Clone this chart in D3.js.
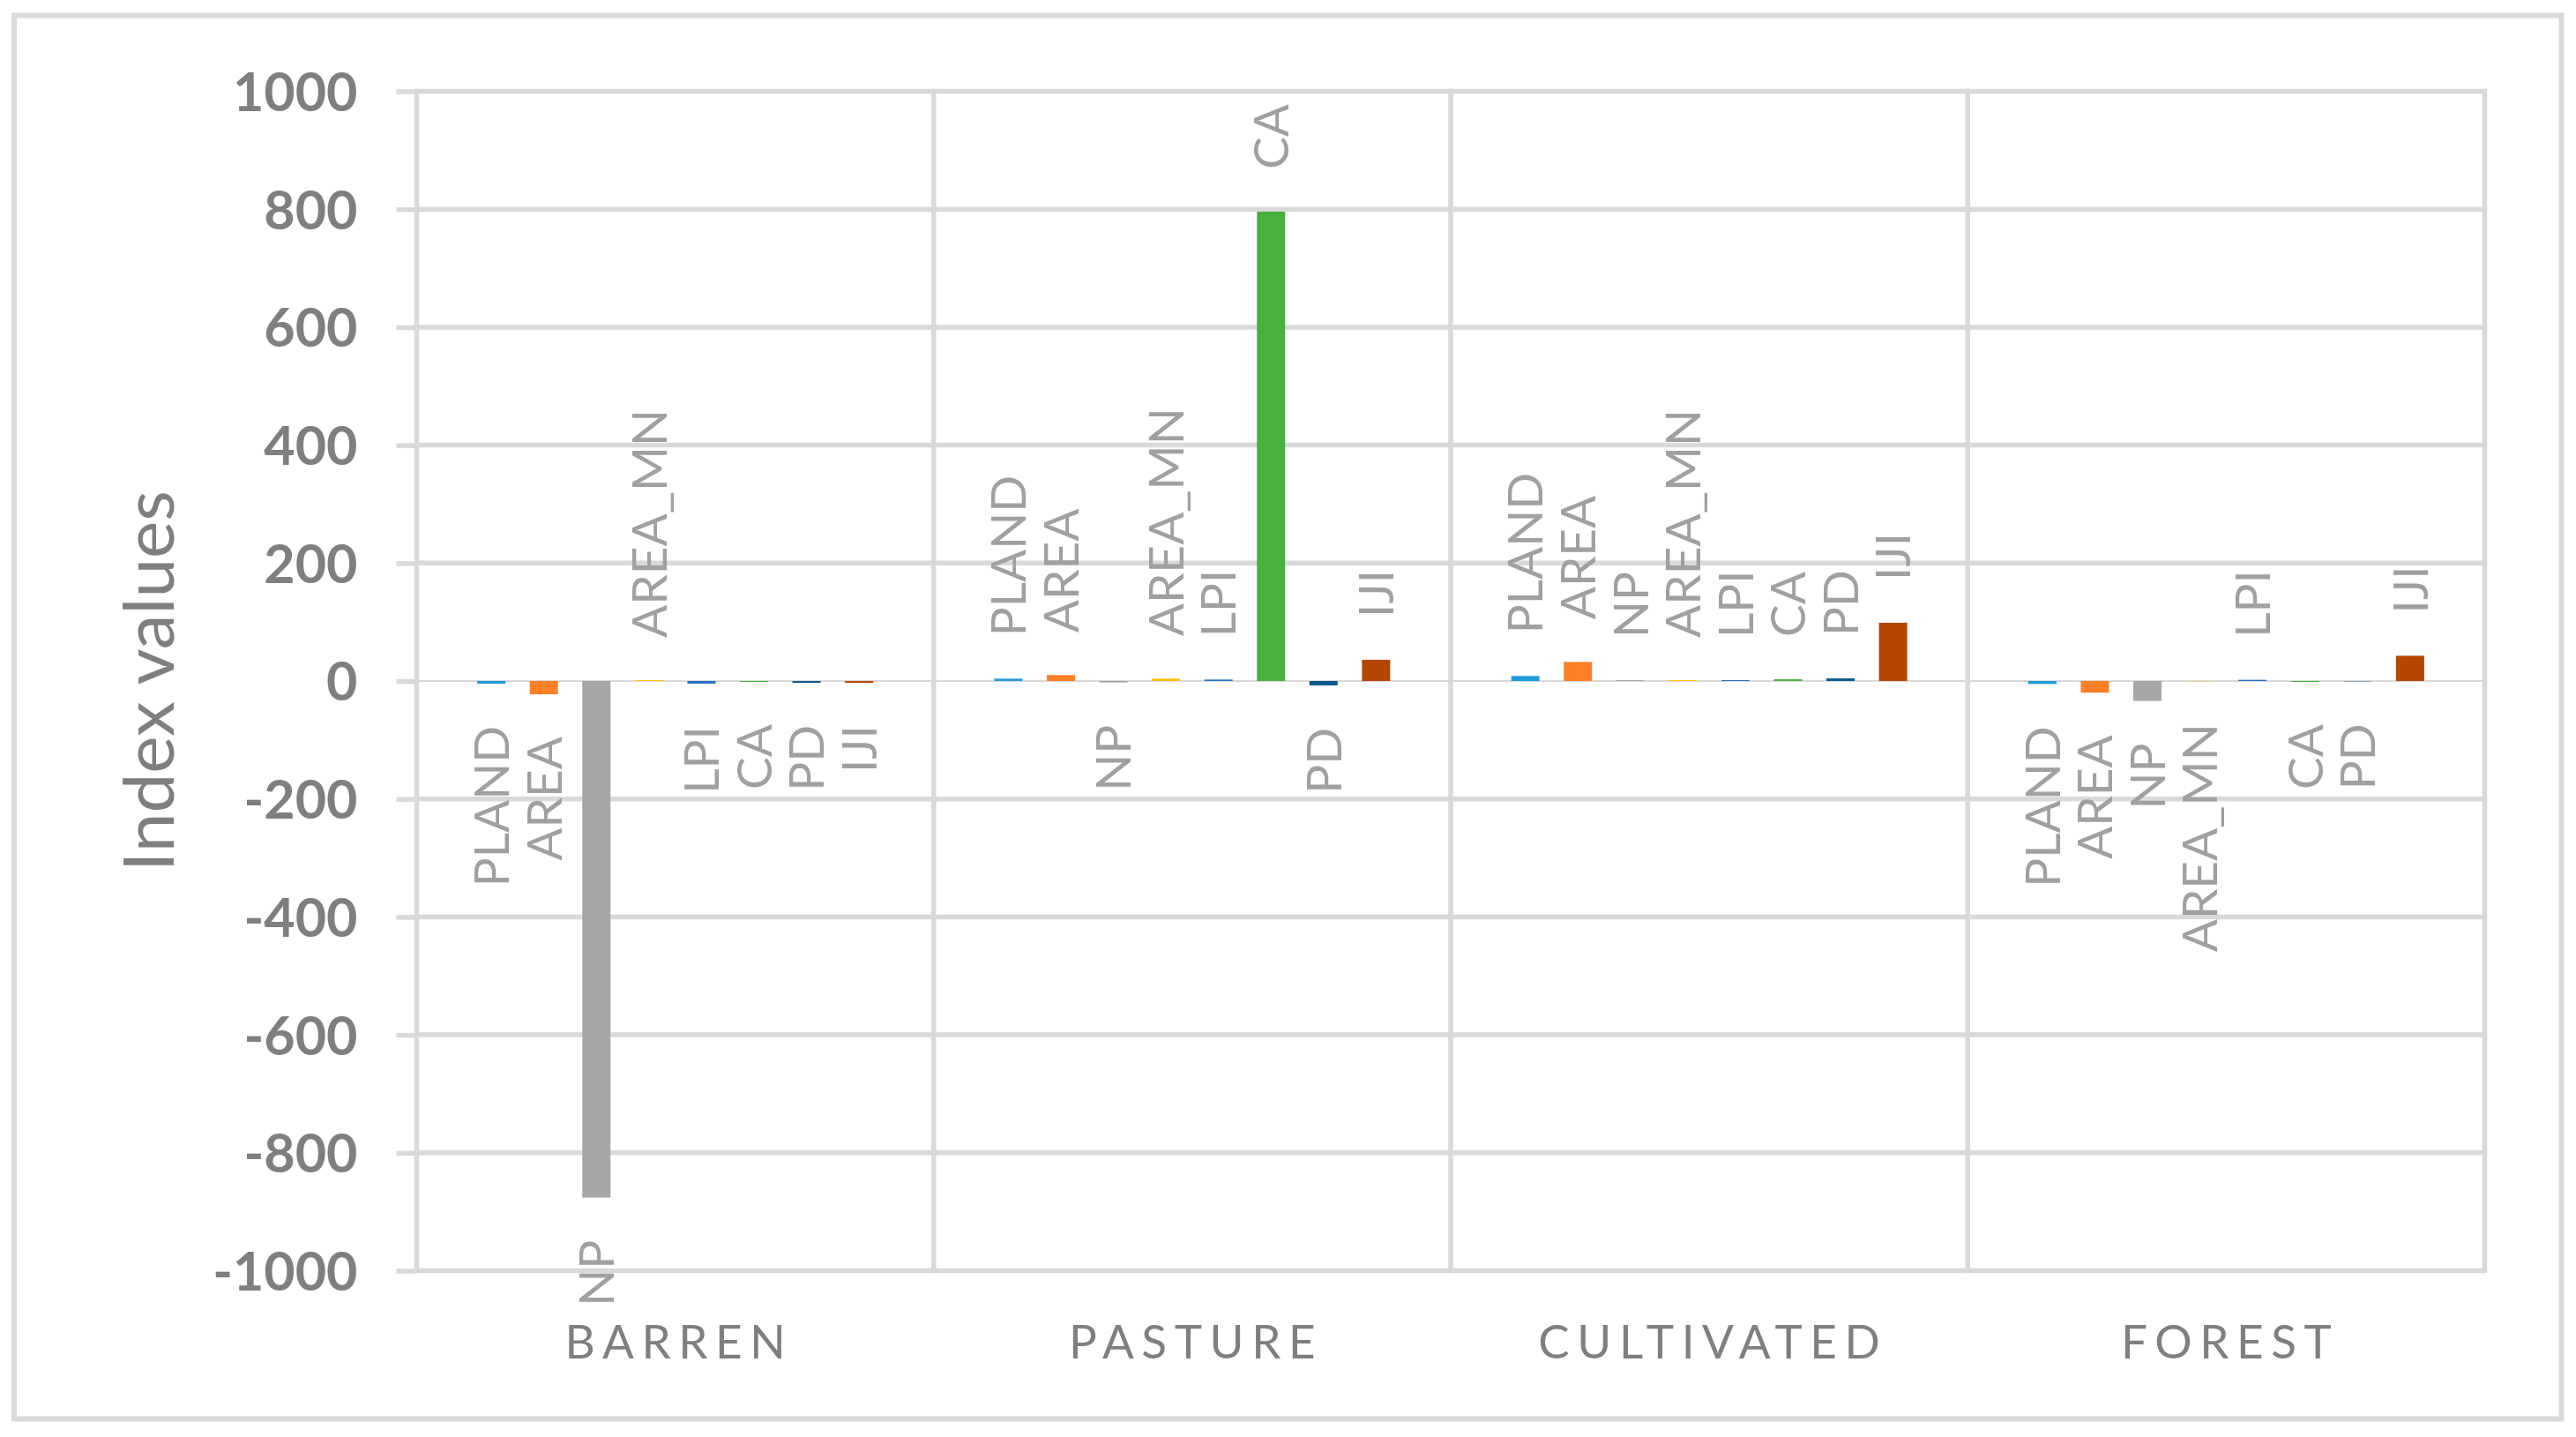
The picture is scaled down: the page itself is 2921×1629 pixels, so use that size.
<!DOCTYPE html>
<html>
<head>
<meta charset="utf-8">
<script src="https://cdn.jsdelivr.net/npm/d3@7"></script>
<style>
  html, body { margin: 0; padding: 0; background: #ffffff; }
  svg { display: block; }
</style>
</head>
<body>
<script>
// ---- data ----
const categories = ["BARREN", "PASTURE", "CULTIVATED", "FOREST"];
const seriesNames = ["PLAND", "AREA", "NP", "AREA_MN", "LPI", "CA", "PD", "IJI"];
const seriesColors = ["#1f9bdc", "#ff7f27", "#a6a6a6", "#ffc000", "#2672c4", "#47b13b", "#0b5a8e", "#b54600"];
const PLAND   = [-4.5,   4,   8.5, -5];
const AREA    = [-22.5, 10,  32.4, -19.8];
const NP      = [-876,  -2.5, 1.5, -33.7];
const AREA_MN = [1.5,    4,   1.5, -0.5];
const LPI     = [-4.5,   2.5, 1.5,  2];
const CA      = [-1.5, 796,   3,   -1.5];
const PD      = [-3,   -7.5,  4.5, -0.5];
const IJI     = [-3,    36,  98.8, 42.8];
const seriesValues = [PLAND, AREA, NP, AREA_MN, LPI, CA, PD, IJI];
const yTicks = [-1000, -800, -600, -400, -200, 0, 200, 400, 600, 800, 1000];
const yTitle = "Index values";

// ---- layout ----
const W = 2921, H = 1629;
const plot = { left: 472.5, right: 2817.5, top: 103.5, bottom: 1440.5 };
const gridColor = "#d9d9d9";

const svg = d3.select("body").append("svg").attr("width", W).attr("height", H);
svg.append("rect").attr("width", W).attr("height", H).attr("fill", "#fff");

// outer frame
svg.append("rect").attr("x", 16).attr("y", 17.5).attr("width", 2904.5 - 16).attr("height", 1608.5 - 17.5)
  .attr("fill", "none").attr("stroke", gridColor).attr("stroke-width", 6);

const y = d3.scaleLinear().domain([-1000, 1000]).range([plot.bottom, plot.top]);
const x0 = d3.scaleBand().domain(categories).range([plot.left, plot.right]).paddingInner(0).paddingOuter(0);
const step = 59.57;
const half = x0.bandwidth() / 2;
const x1 = d3.scaleBand().domain(seriesNames).range([half - 4 * step, half + 4 * step]).padding(0);
const barW = 32;

// horizontal gridlines (not zero)
svg.append("g").selectAll("line").data(yTicks.filter(d => d !== 0)).join("line")
  .attr("x1", plot.left).attr("x2", plot.right)
  .attr("y1", d => y(d)).attr("y2", d => y(d))
  .attr("stroke", gridColor).attr("stroke-width", 5.5);

// vertical category separators
const seps = categories.map(c => x0(c)).concat([plot.right]);
svg.append("g").selectAll("line").data(seps).join("line")
  .attr("x1", d => d).attr("x2", d => d)
  .attr("y1", plot.top - 2.75).attr("y2", plot.bottom + 2.75)
  .attr("stroke", gridColor).attr("stroke-width", 5.5);

// zero line (thin)
svg.append("line").attr("x1", plot.left).attr("x2", plot.right)
  .attr("y1", y(0)).attr("y2", y(0)).attr("stroke", gridColor).attr("stroke-width", 1.8);

// y axis (ticks + labels)
const yAxis = d3.axisLeft(y).tickValues(yTicks).tickSizeInner(23).tickSizeOuter(0).tickPadding(44)
  .tickFormat(d => String(d));
const gy = svg.append("g").attr("transform", `translate(${plot.left},0)`).call(yAxis);
gy.select(".domain").remove();
gy.selectAll(".tick line").attr("stroke", gridColor).attr("stroke-width", 5.5);
gy.selectAll(".tick text").attr("fill", "#7f7f7f").attr("font-family", "Lato, sans-serif")
  .attr("font-weight", "bold").attr("font-size", 61).attr("dy", "0.36em");

// y title
svg.append("text").attr("transform", `translate(197,${y(0)}) rotate(-90)`)
  .attr("text-anchor", "middle").attr("fill", "#7f7f7f")
  .attr("font-family", "Lato, sans-serif").attr("font-size", 80).text(yTitle);

// bars
const groups = svg.append("g").selectAll("g").data(categories).join("g")
  .attr("transform", d => `translate(${x0(d)},0)`);

const cells = (ci) => seriesNames.map((s, si) => ({ s, si, v: seriesValues[si][ci] }));

groups.each(function (c, ci) {
  const g = d3.select(this);
  const data = cells(ci);
  g.selectAll("rect").data(data).join("rect")
    .attr("x", d => x1(d.s) + x1.bandwidth() / 2 - barW / 2)
    .attr("width", barW)
    .attr("y", d => Math.min(y(d.v), y(0)))
    .attr("height", d => Math.abs(y(d.v) - y(0)))
    .attr("fill", d => seriesColors[d.si]);
  g.selectAll("text.lbl").data(data).join("text").attr("class", "lbl")
    .attr("transform", d => {
      const cx = x1(d.s) + x1.bandwidth() / 2;
      const yy = d.v >= 0 ? y(d.v) - 48 : y(d.v) + 48;
      return `translate(${cx},${yy}) rotate(-90)`;
    })
    .attr("text-anchor", d => d.v >= 0 ? "start" : "end")
    .attr("dy", "0.36em")
    .attr("fill", "#a0a0a0")
    .attr("font-family", "Lato, sans-serif").attr("font-size", 55)
    .text(d => d.s);
});

// category labels
const ls = 8.6;
svg.append("g").selectAll("text").data(categories).join("text")
  .attr("x", d => x0(d) + x0.bandwidth() / 2 + ls / 2)
  .attr("y", 1540)
  .attr("text-anchor", "middle")
  .attr("fill", "#7f7f7f")
  .attr("font-family", "Lato, sans-serif").attr("font-size", 53)
  .attr("letter-spacing", ls)
  .text(d => d);
</script>
</body>
</html>
